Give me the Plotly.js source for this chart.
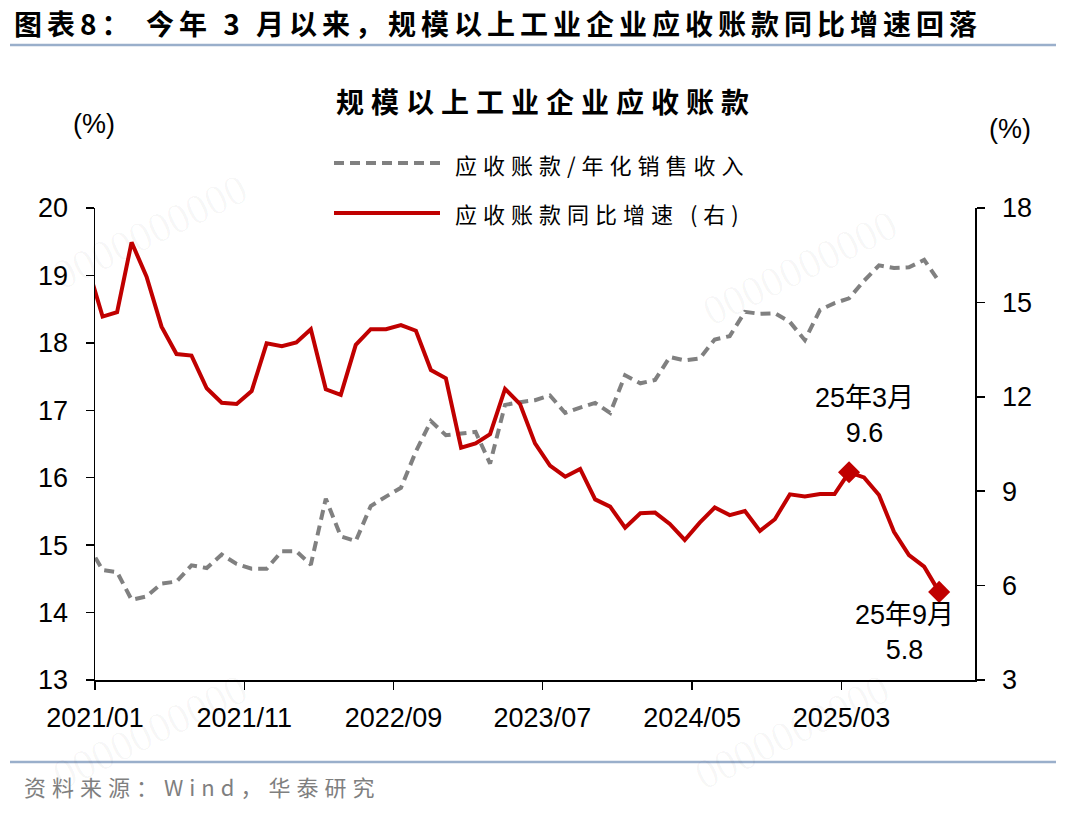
<!DOCTYPE html>
<html>
<head>
<meta charset="utf-8">
<script src="https://cdn.plot.ly/plotly-3.0.1.min.js"></script>
<style>
  html, body { margin: 0; padding: 0; background: #fff; }
  #chart { width: 1091px; height: 816px; }
  .gtitle { letter-spacing: 7px; }
</style>
</head>
<body>
<div id="chart"></div>
<script>
// Monthly series, Dec 2020 - Sep 2025 (the first month sits just left of the axis start)
const firstMonth = '2020-12';
const monthCount = 58;

// 应收账款/年化销售收入 (%), left axis
const receivableRatio = [
  15.02,
  14.63, 14.60, 14.19, 14.24, 14.43, 14.46, 14.70, 14.66, 14.86, 14.72, 14.65, 14.65,
  14.91, 14.91, 14.71, 15.69, 15.13, 15.06, 15.58, 15.72, 15.85, 16.39, 16.84, 16.63,
  16.66, 16.68, 16.21, 17.08, 17.12, 17.15, 17.22, 16.96, 17.04, 17.11, 16.96, 17.52,
  17.40, 17.45, 17.79, 17.74, 17.77, 18.05, 18.10, 18.46, 18.43, 18.44, 18.31, 18.04,
  18.49, 18.59, 18.66, 18.92, 19.15, 19.11, 19.12, 19.23, 18.91
];

// 应收账款同比增速 (%), right axis
const receivableGrowth = [
  16.18,
  14.55, 14.69, 16.91, 15.82, 14.23, 13.36, 13.31, 12.27, 11.81, 11.77, 12.18, 13.70,
  13.61, 13.73, 14.15, 12.24, 12.06, 13.65, 14.15, 14.15, 14.28, 14.10, 12.85, 12.59,
  10.38, 10.52, 10.81, 12.25, 11.77, 10.52, 9.81, 9.46, 9.71, 8.74, 8.51, 7.84,
  8.30, 8.32, 7.96, 7.45, 8.00, 8.48, 8.24, 8.37, 7.74, 8.11, 8.90, 8.83,
  8.91, 8.91, 9.6, 9.44, 8.88, 7.71, 6.97, 6.60, 5.8
];

// Highlighted months and their labels
const highlightMonths = ['2025-03', '2025-09'];
const highlightNames = ['25年3月', '25年9月'];

const legendNames = ['应收账款/年化销售收入', '应收账款同比增速 (右)'];
const headerText = '图表8： 今年 3 月以来，规模以上工业企业应收账款同比增速回落';
const chartTitle = '规模以上工业企业应收账款';
const sourceText = '资料来源：Wind，华泰研究';
const unitLabel = '(%)';
const watermarkText = '0000000000';

function buildMonths(start, n) {
  let [y, m] = start.split('-').map(Number);
  const out = [];
  for (let i = 0; i < n; i++) {
    out.push(y + '-' + String(m).padStart(2, '0'));
    m += 1;
    if (m > 12) { m = 1; y += 1; }
  }
  return out;
}
const months = buildMonths(firstMonth, monthCount);

// Figure geometry (pixels)
const W = 1091, H = 816;
const M = { l: 95, r: 116, t: 208, b: 136 };
const plotW = W - M.l - M.r, plotH = H - M.t - M.b;
const px = x => (x - M.l) / plotW;        // page x -> paper x
const py = y => (H - M.b - y) / plotH;    // page y -> paper y

const RED = '#C00000';
const GREY = '#808080';
const NUM_FONT = 'Liberation Sans, Arial, Noto Sans CJK SC, sans-serif';
const CJK_FONT = 'Noto Sans CJK SC, sans-serif';

const traces = [
  {
    x: months, y: receivableRatio, type: 'scatter', mode: 'lines',
    xperiod: 'M1', xperiodalignment: 'middle',
    line: { color: GREY, width: 4, dash: '10px,6px' },
    yaxis: 'y', showlegend: false, hoverinfo: 'skip'
  },
  {
    x: months, y: receivableGrowth, type: 'scatter', mode: 'lines',
    xperiod: 'M1', xperiodalignment: 'middle',
    line: { color: RED, width: 4 },
    yaxis: 'y2', showlegend: false, hoverinfo: 'skip'
  },
  {
    x: highlightMonths,
    y: highlightMonths.map(m => receivableGrowth[months.indexOf(m)]),
    type: 'scatter', mode: 'markers',
    xperiod: 'M1', xperiodalignment: 'middle',
    marker: { symbol: 'diamond', size: 17, color: RED },
    yaxis: 'y2', showlegend: false, hoverinfo: 'skip', cliponaxis: false
  }
];

const axisCommon = {
  showline: true, linecolor: '#000', linewidth: 1.5,
  ticks: 'outside', ticklen: 8, tickwidth: 1.5, tickcolor: '#000',
  showgrid: false, zeroline: false,
  tickfont: { family: NUM_FONT, size: 27, color: '#000' }
};

const annotations = [];
const spacedText = [];   // [text as written, letter spacing px]
function addNote(a, spacing) {
  if (spacing) spacedText.push([a.text, spacing]);
  annotations.push(Object.assign({ showarrow: false }, a));
}

// Faint background watermark
[[800, 268], [792, 732], [150, 232], [150, 732]].forEach(([cx, cy]) => addNote({
  xref: 'paper', yref: 'paper', x: px(cx), y: py(cy),
  xanchor: 'center', yanchor: 'middle', text: watermarkText, textangle: -26,
  font: { family: 'Liberation Serif, serif', size: 42, color: 'rgba(0,0,0,0.03)' }
}));

// Header and source line
addNote({
  xref: 'paper', yref: 'paper', x: px(12), y: py(23), xanchor: 'left', yanchor: 'middle',
  text: '<b>' + headerText + '</b>',
  font: { family: CJK_FONT, size: 28, color: '#000' }
}, 5);
addNote({
  xref: 'paper', yref: 'paper', x: px(22), y: py(786), xanchor: 'left', yanchor: 'middle',
  text: sourceText,
  font: { family: CJK_FONT, size: 22, color: '#7F7F7F' }
}, 6);

// Unit labels
addNote({
  xref: 'paper', yref: 'paper', x: px(94), y: py(124), xanchor: 'center', yanchor: 'middle',
  text: unitLabel, font: { family: NUM_FONT, size: 27, color: '#000' }
});
addNote({
  xref: 'paper', yref: 'paper', x: px(1010), y: py(129), xanchor: 'center', yanchor: 'middle',
  text: unitLabel, font: { family: NUM_FONT, size: 27, color: '#000' }
});

// Legend text
addNote({
  xref: 'paper', yref: 'paper', x: px(453), y: py(164), xanchor: 'left', yanchor: 'middle',
  text: legendNames[0], font: { family: CJK_FONT, size: 22, color: '#000' }
}, 6);
addNote({
  xref: 'paper', yref: 'paper', x: px(453), y: py(213), xanchor: 'left', yanchor: 'middle',
  text: legendNames[1], font: { family: CJK_FONT, size: 22, color: '#000' }
}, 6);

// Point labels, value text taken from the series
const labelFont = { family: NUM_FONT, size: 27, color: '#000' };
addNote({
  xref: 'x', yref: 'y2', x: highlightMonths[0],
  y: receivableGrowth[months.indexOf(highlightMonths[0])],
  xanchor: 'center', yanchor: 'bottom', xshift: 23, yshift: 22,
  text: highlightNames[0] + '<br>' + receivableGrowth[months.indexOf(highlightMonths[0])].toFixed(1),
  font: labelFont
});
addNote({
  xref: 'x', yref: 'y2', x: highlightMonths[1],
  y: receivableGrowth[months.indexOf(highlightMonths[1])],
  xanchor: 'center', yanchor: 'top', xshift: -27, yshift: -6,
  text: highlightNames[1] + '<br>' + receivableGrowth[months.indexOf(highlightMonths[1])].toFixed(1),
  font: labelFont
});

// Letter spacing for the CJK captions (matched on the text itself so that
// Plotly's own text measuring sees the same spacing)
const css = spacedText.map(([t, s]) =>
  `text[data-unformatted="${t}"] { letter-spacing: ${s}px; }`).join('\n');
const styleEl = document.createElement('style');
styleEl.textContent = css;
document.head.appendChild(styleEl);

const shapes = [
  // rules above the chart and above the source
  { type: 'line', xref: 'paper', yref: 'paper', x0: px(10), x1: px(1056), y0: py(45), y1: py(45),
    line: { color: '#9AAFCB', width: 2.5 } },
  { type: 'line', xref: 'paper', yref: 'paper', x0: px(10), x1: px(1056), y0: py(762), y1: py(762),
    line: { color: '#9AAFCB', width: 2.5 } },
  // legend samples
  { type: 'line', xref: 'paper', yref: 'paper', x0: px(334), x1: px(440), y0: py(163), y1: py(163),
    line: { color: GREY, width: 4, dash: '10px,6px' } },
  { type: 'line', xref: 'paper', yref: 'paper', x0: px(334), x1: px(440), y0: py(213), y1: py(213),
    line: { color: RED, width: 4 } }
];

const layout = {
  width: W, height: H,
  margin: M,
  paper_bgcolor: '#fff', plot_bgcolor: '#fff',
  showlegend: false,
  title: {
    text: '<b>' + chartTitle + '</b>',
    xref: 'container', yref: 'container',
    x: 546 / W, y: 1 - 103 / H, xanchor: 'center', yanchor: 'middle',
    font: { family: CJK_FONT, size: 28, color: '#000' }
  },
  xaxis: Object.assign({}, axisCommon, {
    type: 'date',
    range: ['2021-01-01', '2025-11-28'],
    tick0: '2021-01-01', dtick: 'M10', tickformat: '%Y/%m',
    ticklabelstandoff: 5
  }),
  yaxis: Object.assign({}, axisCommon, {
    range: [13, 20], tick0: 13, dtick: 1, ticklabelstandoff: 12
  }),
  yaxis2: Object.assign({}, axisCommon, {
    range: [3, 18], tick0: 3, dtick: 3, overlaying: 'y', side: 'right',
    ticklabelstandoff: 12
  }),
  shapes: shapes,
  annotations: annotations
};

Plotly.newPlot('chart', traces, layout, { staticPlot: true, displayModeBar: false });
</script>
</body>
</html>
